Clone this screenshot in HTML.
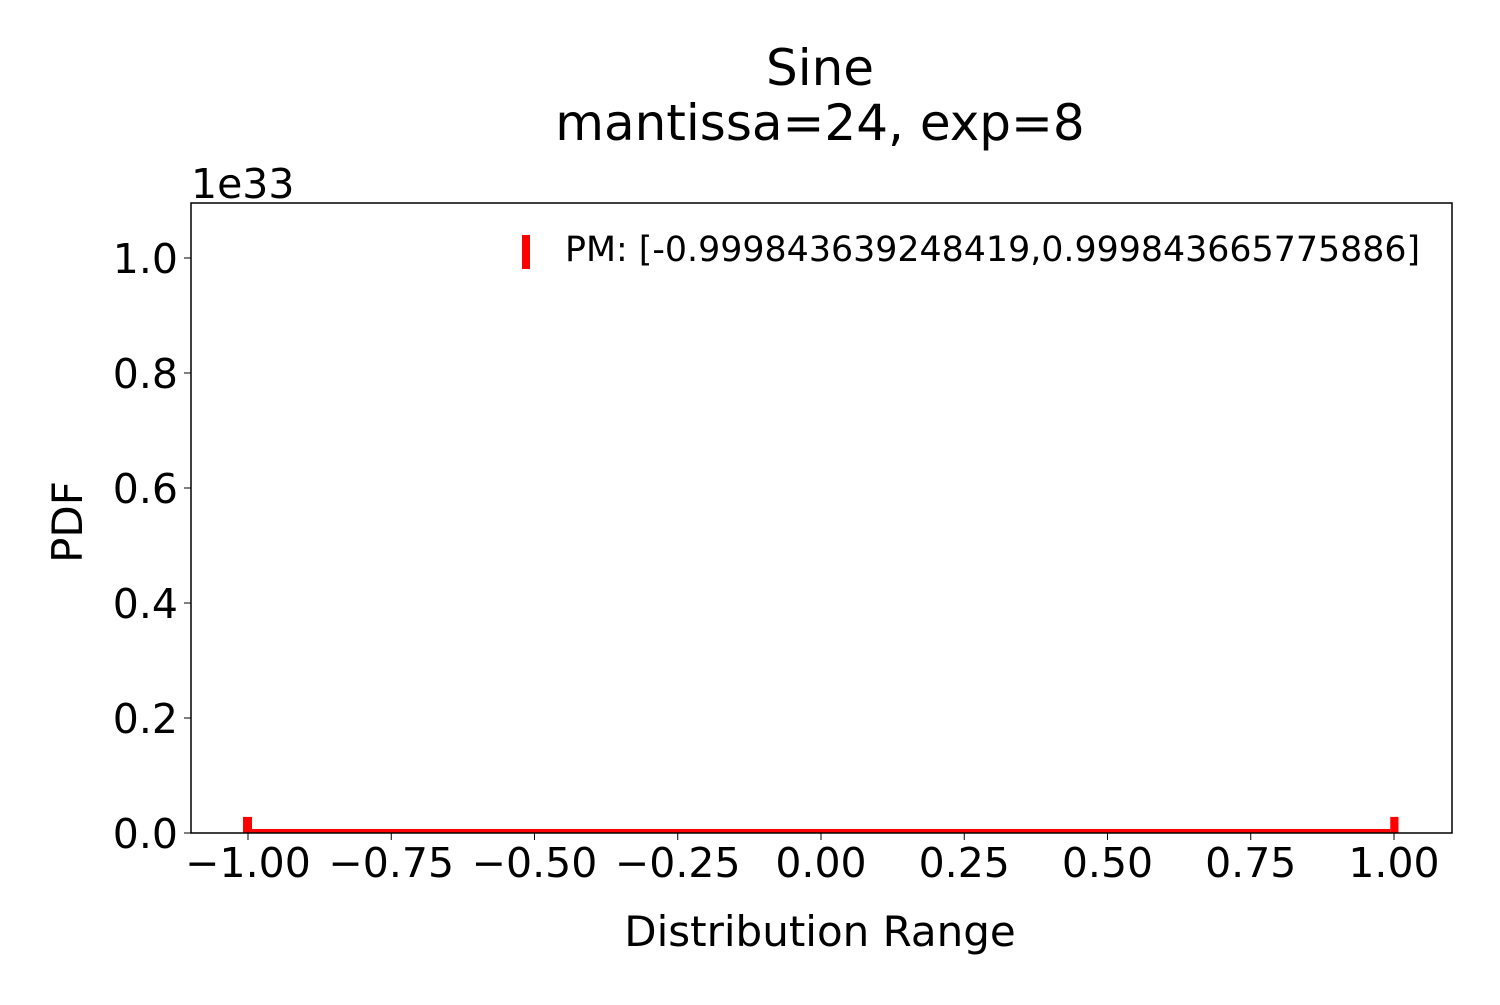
<!DOCTYPE html>
<html><head><meta charset="utf-8"><style>
body{margin:0;background:#fff}
svg text{font-family:"DejaVu Sans","Liberation Sans",sans-serif;fill:#000}
</style></head><body>
<svg width="1500" height="1000" id="c">
<rect x="0" y="0" width="1500" height="1000" fill="#fff"/>
<text x="820" y="85" font-size="50" text-anchor="middle">Sine</text>
<text x="820" y="140" font-size="50" text-anchor="middle">mantissa=24, exp=8</text>
<text x="191" y="198" font-size="41">1e33</text>
<text x="820" y="946" font-size="42" text-anchor="middle">Distribution Range</text>
<text transform="translate(82,522) rotate(-90)" font-size="42" text-anchor="middle">PDF</text>
<g id="marks"></g>
<g id="ticks"></g>
<rect x="191" y="203" width="1261" height="630" fill="none" stroke="#000" stroke-width="1.5"/>
<rect x="522" y="235" width="8" height="34" fill="#f00"/>
<text x="565" y="261" font-size="34.8">PM: [-0.999843639248419,0.999843665775886]</text>
</svg>
<script>
const binEdges=[-1.0087,-0.993,0.9935,1.0078];
const binValues=[0.028,0.007,0.028];
const xTicks=[-1,-0.75,-0.5,-0.25,0,0.25,0.5,0.75,1];
const xTickLabels=["−1.00","−0.75","−0.50","−0.25","0.00","0.25","0.50","0.75","1.00"];
const yTicks=[0,0.2,0.4,0.6,0.8,1.0];
const yTickLabels=["0.0","0.2","0.4","0.6","0.8","1.0"];
const NS="http://www.w3.org/2000/svg";
const X=v=>821+v*573, Y=v=>833-v*575;
const marks=document.getElementById('marks'), ticks=document.getElementById('ticks');
binValues.forEach((v,i)=>{
  const r=document.createElementNS(NS,'rect');
  
  
  r.setAttribute('x',X(binEdges[i]));r.setAttribute('width',X(binEdges[i+1])-X(binEdges[i]));
  r.setAttribute('y',Y(v));r.setAttribute('height',833-Y(v));r.setAttribute('fill','#f00');
  marks.appendChild(r);
});
xTicks.forEach((v,i)=>{
  const l=document.createElementNS(NS,'line');
  
  
  l.setAttribute('x1',X(v));l.setAttribute('x2',X(v));l.setAttribute('y1',833);l.setAttribute('y2',840);l.setAttribute('stroke','#000');
  ticks.appendChild(l);
  const t=document.createElementNS(NS,'text');
  
  
  t.setAttribute('x',X(v));t.setAttribute('y',877);t.setAttribute('font-size','41');t.setAttribute('text-anchor','middle');
  t.textContent=xTickLabels[i];ticks.appendChild(t);
});
yTicks.forEach((v,i)=>{
  const l=document.createElementNS(NS,'line');
  
  
  l.setAttribute('x1',184);l.setAttribute('x2',191);l.setAttribute('y1',Y(v));l.setAttribute('y2',Y(v));l.setAttribute('stroke','#000');
  ticks.appendChild(l);
  const t=document.createElementNS(NS,'text');
  
  
  t.setAttribute('x',178);t.setAttribute('y',Y(v)+15);t.setAttribute('font-size','41');t.setAttribute('text-anchor','end');
  t.textContent=yTickLabels[i];ticks.appendChild(t);
});
</script>
</body></html>
